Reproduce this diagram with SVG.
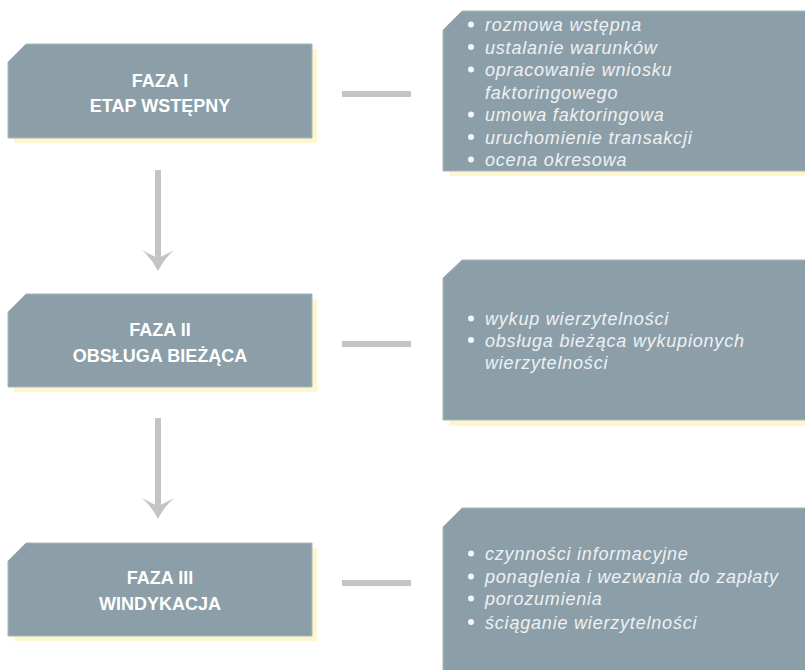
<svg xmlns="http://www.w3.org/2000/svg" width="805" height="670" viewBox="0 0 805 670">
<style>
.box{fill:#8c9fa8;stroke:#a7b5bc;stroke-width:1}
.shadow{fill:#fdf6cf}
.title{font-family:"Liberation Sans",Arial,sans-serif;font-weight:bold;font-size:18px;fill:#ffffff;text-anchor:middle}
.item{font-family:"Liberation Sans",Arial,sans-serif;font-style:italic;font-size:18px;fill:#eef1f3;letter-spacing:0.8px}
.bullet{fill:#f4f6f7}
.conn{fill:#c4c4c4}
</style>
<rect width="805" height="670" fill="#ffffff"/>

<g id="phase1">
<path class="shadow" d="M14,62 L31,49 L317,49 L317,143 L14,143 Z"/>
<path class="box" d="M8,62 L26,44 L312,44 L312,138 L8,138 Z"/>
<text class="title" x="160" y="87">FAZA I</text>
<text class="title" x="160" y="112">ETAP WSTĘPNY</text>
</g>

<g id="phase2">
<path class="shadow" d="M14,312 L31,299 L317,299 L317,392 L14,392 Z"/>
<path class="box" d="M8,312 L26,294 L312,294 L312,387 L8,387 Z"/>
<text class="title" x="160" y="336">FAZA II</text>
<text class="title" x="160" y="362">OBSŁUGA BIEŻĄCA</text>
</g>

<g id="phase3">
<path class="shadow" d="M14,561 L31,548 L317,548 L317,641 L14,641 Z"/>
<path class="box" d="M8,561 L26,543 L312,543 L312,636 L8,636 Z"/>
<text class="title" x="160" y="584">FAZA III</text>
<text class="title" x="160" y="610">WINDYKACJA</text>
</g>

<g id="details1">
<path class="shadow" d="M449,30 L466,16 L810,16 L810,176 L449,176 Z"/>
<path class="box" d="M443,30 L462,11 L810,11 L810,171 L443,171 Z"/>
<circle class="bullet" cx="471" cy="24.5" r="3"/>
<text class="item" x="485" y="31">rozmowa wstępna</text>
<circle class="bullet" cx="471" cy="47" r="3"/>
<text class="item" x="485" y="53.5">ustalanie warunków</text>
<circle class="bullet" cx="471" cy="69.5" r="3"/>
<text class="item" x="485" y="76">opracowanie wniosku</text>
<text class="item" x="485" y="98.5">faktoringowego</text>
<circle class="bullet" cx="471" cy="114.5" r="3"/>
<text class="item" x="485" y="121">umowa faktoringowa</text>
<circle class="bullet" cx="471" cy="137" r="3"/>
<text class="item" x="485" y="143.5">uruchomienie transakcji</text>
<circle class="bullet" cx="471" cy="159.5" r="3"/>
<text class="item" x="485" y="166">ocena okresowa</text>
</g>

<g id="details2">
<path class="shadow" d="M449,278 L466,265 L810,265 L810,426 L449,426 Z"/>
<path class="box" d="M443,278 L462,260 L810,260 L810,420 L443,420 Z"/>
<circle class="bullet" cx="471" cy="318.5" r="3"/>
<text class="item" x="485" y="325">wykup wierzytelności</text>
<circle class="bullet" cx="471" cy="340" r="3"/>
<text class="item" x="485" y="346.5">obsługa bieżąca wykupionych</text>
<text class="item" x="485" y="368.5">wierzytelności</text>
</g>

<g id="details3">
<path class="box" d="M443,527 L462,508 L810,508 L810,680 L443,680 Z"/>
<circle class="bullet" cx="471" cy="553.5" r="3"/>
<text class="item" x="485" y="560">czynności informacyjne</text>
<circle class="bullet" cx="471" cy="576.5" r="3"/>
<text class="item" x="485" y="583">ponaglenia i wezwania do zapłaty</text>
<circle class="bullet" cx="471" cy="598.5" r="3"/>
<text class="item" x="485" y="605">porozumienia</text>
<circle class="bullet" cx="471" cy="622" r="3"/>
<text class="item" x="485" y="628.5">ściąganie wierzytelności</text>
</g>

<g id="connectors">
<rect class="conn" x="342" y="91" width="69" height="6"/>
<rect class="conn" x="342" y="341" width="69" height="6"/>
<rect class="conn" x="342" y="580" width="69" height="6"/>
<rect class="conn" x="155" y="170" width="6" height="88"/>
<path class="conn" d="M142,250 Q151,255 158,258 Q165,255 174,250 Q164,259 158,271 Q152,259 142,250 Z"/>
<rect class="conn" x="155" y="418" width="6" height="88"/>
<path class="conn" d="M142,498 Q151,503 158,506 Q165,503 174,498 Q164,507 158,519 Q152,507 142,498 Z"/>
</g>
</svg>
